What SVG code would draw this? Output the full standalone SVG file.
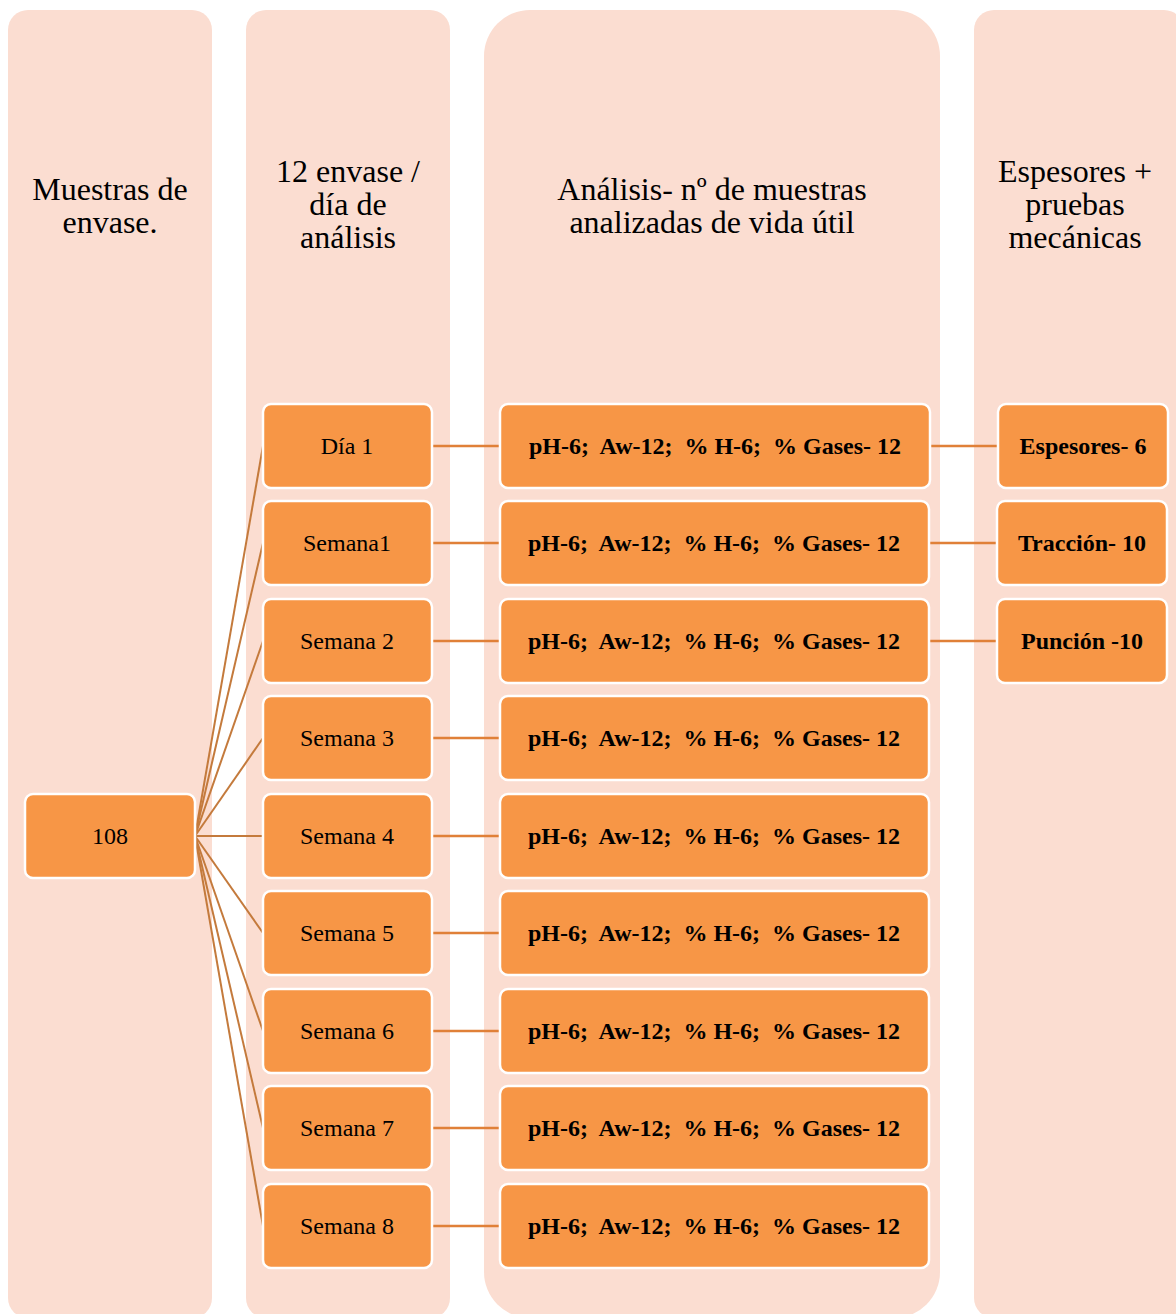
<svg xmlns="http://www.w3.org/2000/svg" width="1176" height="1314" viewBox="0 0 1176 1314">
<style>
.col{fill:#FBDDD1;}
.node{fill:#F79646;stroke:#FFFFFF;stroke-width:2.5;}
.hd{font-family:"Liberation Serif",serif;font-size:32px;fill:#000;text-anchor:middle;}
.lb{font-family:"Liberation Serif",serif;font-size:24px;fill:#000;text-anchor:middle;}
.bd{font-family:"Liberation Serif",serif;font-size:24px;font-weight:bold;fill:#000;text-anchor:middle;}
.fan{stroke:#C47A3C;stroke-width:2;fill:none;}
.hz{stroke:#E08038;stroke-width:2.5;fill:none;}
</style>
<rect width="1176" height="1314" fill="#FFFFFF"/>
<g id="columns">
<g id="col1"><rect class="col" x="8" y="10" width="204" height="1308" rx="20"/>
<text class="hd" x="110" y="200">Muestras de</text><text class="hd" x="110" y="233">envase.</text></g>
<g id="col2"><rect class="col" x="246" y="10" width="204" height="1308" rx="20"/>
<text class="hd" x="348" y="182">12 envase /</text><text class="hd" x="348" y="215">día de</text><text class="hd" x="348" y="248">análisis</text></g>
<g id="col3"><rect class="col" x="484" y="10" width="456" height="1308" rx="46"/>
<text class="hd" x="712" y="200">Análisis- nº de muestras</text><text class="hd" x="712" y="233">analizadas de vida útil</text></g>
<g id="col4"><rect class="col" x="974" y="10" width="210" height="1308" rx="20"/>
<text class="hd" x="1075" y="182">Espesores +</text><text class="hd" x="1075" y="215">pruebas</text><text class="hd" x="1075" y="248">mecánicas</text></g>
</g>
<g id="connectors">
<line class="fan" x1="195" y1="836" x2="263" y2="446"/>
<line class="fan" x1="195" y1="836" x2="263" y2="543"/>
<line class="fan" x1="195" y1="836" x2="263" y2="641"/>
<line class="fan" x1="195" y1="836" x2="263" y2="738"/>
<line class="fan" x1="195" y1="836" x2="263" y2="836"/>
<line class="fan" x1="195" y1="836" x2="263" y2="933"/>
<line class="fan" x1="195" y1="836" x2="263" y2="1031"/>
<line class="fan" x1="195" y1="836" x2="263" y2="1128"/>
<line class="fan" x1="195" y1="836" x2="263" y2="1226"/>
<line class="hz" x1="432" y1="446" x2="500" y2="446"/>
<line class="hz" x1="432" y1="543" x2="500" y2="543"/>
<line class="hz" x1="432" y1="641" x2="500" y2="641"/>
<line class="hz" x1="432" y1="738" x2="500" y2="738"/>
<line class="hz" x1="432" y1="836" x2="500" y2="836"/>
<line class="hz" x1="432" y1="933" x2="500" y2="933"/>
<line class="hz" x1="432" y1="1031" x2="500" y2="1031"/>
<line class="hz" x1="432" y1="1128" x2="500" y2="1128"/>
<line class="hz" x1="432" y1="1226" x2="500" y2="1226"/>
<line class="hz" x1="930" y1="446" x2="998" y2="446"/>
<line class="hz" x1="930" y1="543" x2="997" y2="543"/>
<line class="hz" x1="930" y1="641" x2="997" y2="641"/>
</g>
<g id="n108"><rect class="node" x="25" y="794" width="170" height="84" rx="8"/><text class="lb" x="110" y="844">108</text></g>
<g id="d1"><rect class="node" x="263" y="404" width="169" height="84" rx="8"/><text class="lb" x="347" y="454">Día 1</text></g>
<g id="s1"><rect class="node" x="263" y="501" width="169" height="84" rx="8"/><text class="lb" x="347" y="551">Semana1</text></g>
<g id="s2"><rect class="node" x="263" y="599" width="169" height="84" rx="8"/><text class="lb" x="347" y="649">Semana 2</text></g>
<g id="s3"><rect class="node" x="263" y="696" width="169" height="84" rx="8"/><text class="lb" x="347" y="746">Semana 3</text></g>
<g id="s4"><rect class="node" x="263" y="794" width="169" height="84" rx="8"/><text class="lb" x="347" y="844">Semana 4</text></g>
<g id="s5"><rect class="node" x="263" y="891" width="169" height="84" rx="8"/><text class="lb" x="347" y="941">Semana 5</text></g>
<g id="s6"><rect class="node" x="263" y="989" width="169" height="84" rx="8"/><text class="lb" x="347" y="1039">Semana 6</text></g>
<g id="s7"><rect class="node" x="263" y="1086" width="169" height="84" rx="8"/><text class="lb" x="347" y="1136">Semana 7</text></g>
<g id="s8"><rect class="node" x="263" y="1184" width="169" height="84" rx="8"/><text class="lb" x="347" y="1234">Semana 8</text></g>
<g id="a1"><rect class="node" x="500" y="404" width="430" height="84" rx="8"/><text class="bd" x="715" y="454" xml:space="preserve">pH-6;  Aw-12;  % H-6;  % Gases- 12</text></g>
<g id="a2"><rect class="node" x="500" y="501" width="429" height="84" rx="8"/><text class="bd" x="714" y="551" xml:space="preserve">pH-6;  Aw-12;  % H-6;  % Gases- 12</text></g>
<g id="a3"><rect class="node" x="500" y="599" width="429" height="84" rx="8"/><text class="bd" x="714" y="649" xml:space="preserve">pH-6;  Aw-12;  % H-6;  % Gases- 12</text></g>
<g id="a4"><rect class="node" x="500" y="696" width="429" height="84" rx="8"/><text class="bd" x="714" y="746" xml:space="preserve">pH-6;  Aw-12;  % H-6;  % Gases- 12</text></g>
<g id="a5"><rect class="node" x="500" y="794" width="429" height="84" rx="8"/><text class="bd" x="714" y="844" xml:space="preserve">pH-6;  Aw-12;  % H-6;  % Gases- 12</text></g>
<g id="a6"><rect class="node" x="500" y="891" width="429" height="84" rx="8"/><text class="bd" x="714" y="941" xml:space="preserve">pH-6;  Aw-12;  % H-6;  % Gases- 12</text></g>
<g id="a7"><rect class="node" x="500" y="989" width="429" height="84" rx="8"/><text class="bd" x="714" y="1039" xml:space="preserve">pH-6;  Aw-12;  % H-6;  % Gases- 12</text></g>
<g id="a8"><rect class="node" x="500" y="1086" width="429" height="84" rx="8"/><text class="bd" x="714" y="1136" xml:space="preserve">pH-6;  Aw-12;  % H-6;  % Gases- 12</text></g>
<g id="a9"><rect class="node" x="500" y="1184" width="429" height="84" rx="8"/><text class="bd" x="714" y="1234" xml:space="preserve">pH-6;  Aw-12;  % H-6;  % Gases- 12</text></g>
<g id="esp"><rect class="node" x="998" y="404" width="170" height="84" rx="8"/><text class="bd" x="1083" y="454">Espesores- 6</text></g>
<g id="trac"><rect class="node" x="997" y="501" width="170" height="84" rx="8"/><text class="bd" x="1082" y="551">Tracción- 10</text></g>
<g id="punc"><rect class="node" x="997" y="599" width="170" height="84" rx="8"/><text class="bd" x="1082" y="649">Punción -10</text></g>
</svg>
